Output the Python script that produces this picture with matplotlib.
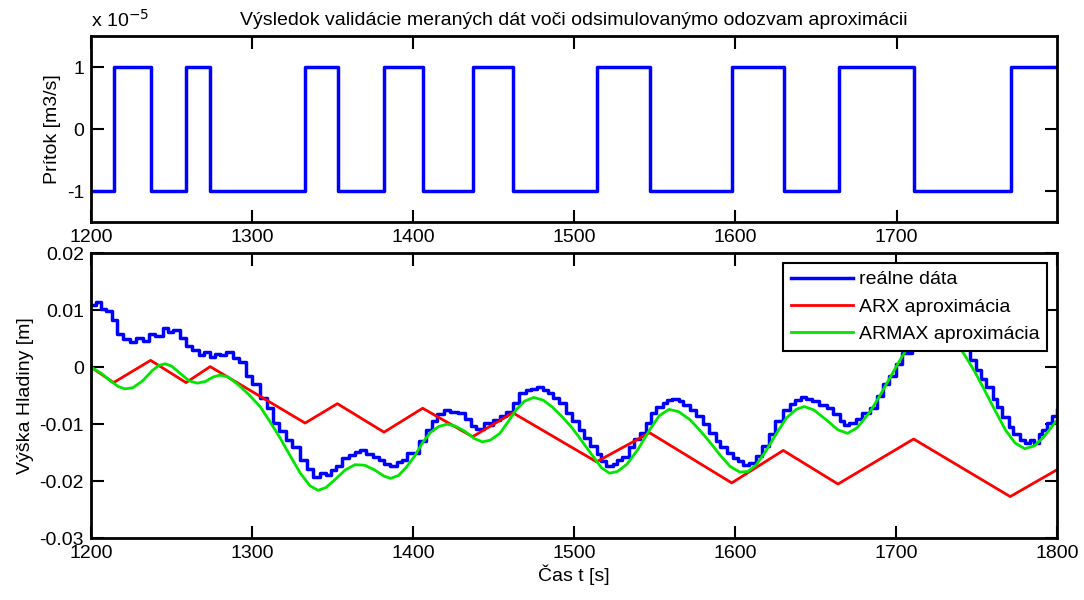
import numpy as np
import matplotlib.pyplot as plt

plt.rcParams['font.family'] = ['Liberation Sans', 'DejaVu Sans']
plt.rcParams['axes.unicode_minus'] = False

# vstup - prepínacie časy a hodnoty (x 1e-5)
t_in = [1200, 1214, 1237, 1259, 1274, 1333, 1353, 1382, 1406, 1437, 1462,
        1514, 1547, 1598, 1630, 1664, 1711, 1771, 1800]
u_in = [-1, 1, -1, 1, -1, 1, -1, 1, -1, 1, -1,
        1, -1, 1, -1, 1, -1, 1, 1]

# ARX aproximácia - zlomové body
t_arx = [1200, 1214, 1237, 1259, 1274, 1333, 1353, 1382, 1406, 1437, 1462,
         1514, 1547, 1598, 1630, 1664, 1711, 1771, 1800]
y_arx = [0.0, -0.0027, 0.0012, -0.0027, 0.0001, -0.0098, -0.0064, -0.0114, -0.0072,
         -0.0122, -0.0080, -0.0166, -0.0115, -0.0203, -0.0146, -0.0205, -0.0126,
         -0.0227, -0.0180]

# ARMAX aproximácia
t_armax = [1200, 1206, 1212, 1217, 1221, 1226, 1232, 1238, 1242, 1246,
           1250, 1255, 1261, 1266, 1271, 1276, 1280, 1285, 1292, 1298,
           1305, 1311, 1317, 1323, 1330, 1336, 1341, 1346, 1352, 1358,
           1364, 1370, 1376, 1382, 1386, 1391, 1396, 1401, 1406, 1411,
           1416, 1421, 1426, 1432, 1438, 1443, 1448, 1454, 1459, 1464,
           1469, 1475, 1481, 1487, 1493, 1499, 1505, 1512, 1517, 1522,
           1527, 1533, 1540, 1547, 1553, 1559, 1565, 1572, 1578, 1584,
           1591, 1597, 1603, 1608, 1613, 1619, 1626, 1632, 1638, 1643,
           1649, 1657, 1664, 1670, 1676, 1684, 1690, 1696, 1702, 1708,
           1716, 1724, 1731, 1737, 1743, 1749, 1755, 1762, 1768, 1774,
           1780, 1786, 1792, 1798, 1800]
y_armax = [0.0, -0.0010, -0.0024, -0.0034, -0.0038, -0.0036, -0.0024, -0.0006, 0.0003, 0.0006,
           0.0002, -0.0010, -0.0024, -0.0028, -0.0025, -0.0017, -0.0014, -0.0017, -0.0032, -0.0048,
           -0.0069, -0.0095, -0.0122, -0.0152, -0.0186, -0.0208, -0.0216, -0.0211, -0.0196, -0.0180,
           -0.0171, -0.0172, -0.0180, -0.0191, -0.0195, -0.0190, -0.0175, -0.0156, -0.0132, -0.0114,
           -0.0104, -0.0100, -0.0103, -0.0112, -0.0125, -0.0131, -0.0128, -0.0116, -0.0096, -0.0075,
           -0.0060, -0.0053, -0.0058, -0.0071, -0.0088, -0.0107, -0.0130, -0.0157, -0.0176, -0.0186,
           -0.0183, -0.0170, -0.0143, -0.0110, -0.0085, -0.0074, -0.0078, -0.0092, -0.0110, -0.0130,
           -0.0155, -0.0174, -0.0184, -0.0183, -0.0172, -0.0148, -0.0115, -0.0089, -0.0074, -0.0069,
           -0.0075, -0.0093, -0.0110, -0.0116, -0.0106, -0.0078, -0.0050, -0.0020, 0.0010, 0.0038,
           0.0058, 0.0066, 0.0062, 0.0045, 0.0020, -0.0008, -0.0040, -0.0078, -0.0110, -0.0133,
           -0.0143, -0.0138, -0.0122, -0.0100, -0.0093]

# reálne dáta
t_real = [1200, 1203, 1206, 1209, 1213, 1216, 1220, 1224, 1228, 1232,
          1236, 1240, 1245, 1248, 1251, 1255, 1259, 1263, 1267, 1270,
          1274, 1277, 1280, 1284, 1288, 1292, 1296, 1300, 1305, 1309,
          1313, 1317, 1321, 1325, 1330, 1334, 1338, 1342, 1346, 1349,
          1352, 1356, 1360, 1364, 1367, 1371, 1375, 1379, 1382, 1386,
          1390, 1393, 1396, 1400, 1404, 1408, 1412, 1415, 1419, 1423,
          1428, 1432, 1436, 1439, 1444, 1448, 1450, 1454, 1458, 1462,
          1466, 1470, 1473, 1477, 1481, 1484, 1487, 1491, 1495, 1499,
          1503, 1506, 1510, 1514, 1517, 1520, 1524, 1527, 1530, 1534,
          1537, 1541, 1545, 1548, 1551, 1555, 1558, 1561, 1565, 1568,
          1572, 1576, 1580, 1584, 1588, 1591, 1595, 1599, 1602, 1605,
          1609, 1613, 1617, 1621, 1625, 1630, 1634, 1637, 1641, 1644,
          1648, 1652, 1657, 1661, 1665, 1668, 1671, 1675, 1679, 1684,
          1688, 1692, 1696, 1700, 1704, 1710, 1716, 1722, 1728, 1734,
          1740, 1746, 1750, 1753, 1756, 1760, 1763, 1766, 1770, 1773,
          1777, 1780, 1783, 1786, 1789, 1791, 1794, 1797, 1800]
y_real = [0.0110, 0.0115, 0.0102, 0.0098, 0.0082, 0.0058, 0.0050, 0.0045, 0.0052, 0.0046,
          0.0058, 0.0055, 0.0068, 0.0062, 0.0066, 0.0052, 0.0038, 0.0030, 0.0022, 0.0026,
          0.0018, 0.0024, 0.0022, 0.0027, 0.0016, 0.0010, -0.0016, -0.0030, -0.0054, -0.0072,
          -0.0098, -0.0112, -0.0128, -0.0140, -0.0163, -0.0178, -0.0192, -0.0186, -0.0189, -0.0180,
          -0.0174, -0.0160, -0.0154, -0.0148, -0.0145, -0.0152, -0.0157, -0.0162, -0.0170, -0.0174,
          -0.0166, -0.0162, -0.0151, -0.0150, -0.0130, -0.0110, -0.0095, -0.0082, -0.0075, -0.0078,
          -0.0081, -0.0090, -0.0104, -0.0109, -0.0098, -0.0101, -0.0092, -0.0085, -0.0078, -0.0062,
          -0.0046, -0.0040, -0.0038, -0.0034, -0.0040, -0.0046, -0.0054, -0.0062, -0.0080, -0.0095,
          -0.0110, -0.0125, -0.0139, -0.0152, -0.0165, -0.0174, -0.0170, -0.0163, -0.0158, -0.0140,
          -0.0126, -0.0116, -0.0098, -0.0080, -0.0069, -0.0062, -0.0058, -0.0056, -0.0060, -0.0066,
          -0.0075, -0.0085, -0.0100, -0.0116, -0.0130, -0.0140, -0.0151, -0.0160, -0.0165, -0.0171,
          -0.0168, -0.0155, -0.0139, -0.0118, -0.0095, -0.0075, -0.0065, -0.0058, -0.0052, -0.0055,
          -0.0060, -0.0066, -0.0072, -0.0082, -0.0095, -0.0101, -0.0098, -0.0090, -0.0080, -0.0072,
          -0.0050, -0.0030, -0.0016, 0.0005, 0.0025, 0.0048, 0.0065, 0.0072, 0.0070, 0.0055,
          0.0040, 0.0013, -0.0005, -0.0020, -0.0034, -0.0055, -0.0070, -0.0087, -0.0105, -0.0118,
          -0.0128, -0.0133, -0.0128, -0.0133, -0.0118, -0.0110, -0.0098, -0.0086, -0.0075]

fig = plt.figure(figsize=(10.84, 6.0), dpi=100)
ax1 = fig.add_axes([0.084, 0.63, 0.891, 0.31])
ax2 = fig.add_axes([0.084, 0.103, 0.891, 0.475])

# horný graf - prítok
ax1.plot(t_in, u_in, color='#0000ff', linewidth=2.5, drawstyle='steps-post')
ax1.set_xlim(1200, 1799.5)
ax1.set_ylim(-1.5, 1.5)
ax1.set_xticks([1200, 1300, 1400, 1500, 1600, 1700])
ax1.set_yticks([-1, 0, 1])
ax1.set_ylabel('Prítok [m3/s]', fontsize=14)
ax1.set_title('Výsledok validácie meraných dát voči odsimulovanýmo odozvam aproximácii',
              fontsize=14, pad=8)
ax1.text(0.0, 1.03, r'x 10$^{-5}$', transform=ax1.transAxes, fontsize=14,
         ha='left', va='bottom')

# dolný graf - výška hladiny
ax2.plot(t_real, y_real, color='#0000ff', linewidth=2.5, drawstyle='steps-post',
         label='reálne dáta')
ax2.plot(t_arx, y_arx, color='#ff0000', linewidth=2, label='ARX aproximácia')
ax2.plot(t_armax, y_armax, color='#00e600', linewidth=2, label='ARMAX aproximácia')
ax2.set_xlim(1200, 1800)
ax2.set_ylim(-0.03, 0.02)
ax2.set_xticks([1200, 1300, 1400, 1500, 1600, 1700, 1800])
ax2.set_yticks([-0.03, -0.02, -0.01, 0, 0.01, 0.02])
ax2.set_yticklabels(['-0.03', '-0.02', '-0.01', '0', '0.01', '0.02'])
ax2.set_xlabel('Čas t [s]', fontsize=14, labelpad=2)
ax2.set_ylabel('Výška Hladiny [m]', fontsize=14)
leg = ax2.legend(loc='upper right', fontsize=14, frameon=True, fancybox=False,
                 edgecolor='black', framealpha=1, handlelength=3.2,
                 borderaxespad=0.5, labelspacing=0.5, handletextpad=0.3)
leg.get_frame().set_linewidth(1.5)

for ax in (ax1, ax2):
    ax.tick_params(direction='in', length=9, width=1.5, labelsize=14,
                   top=True, right=True, pad=5)
    for s in ax.spines.values():
        s.set_linewidth(2)

fig.savefig('out.png', dpi=100)
